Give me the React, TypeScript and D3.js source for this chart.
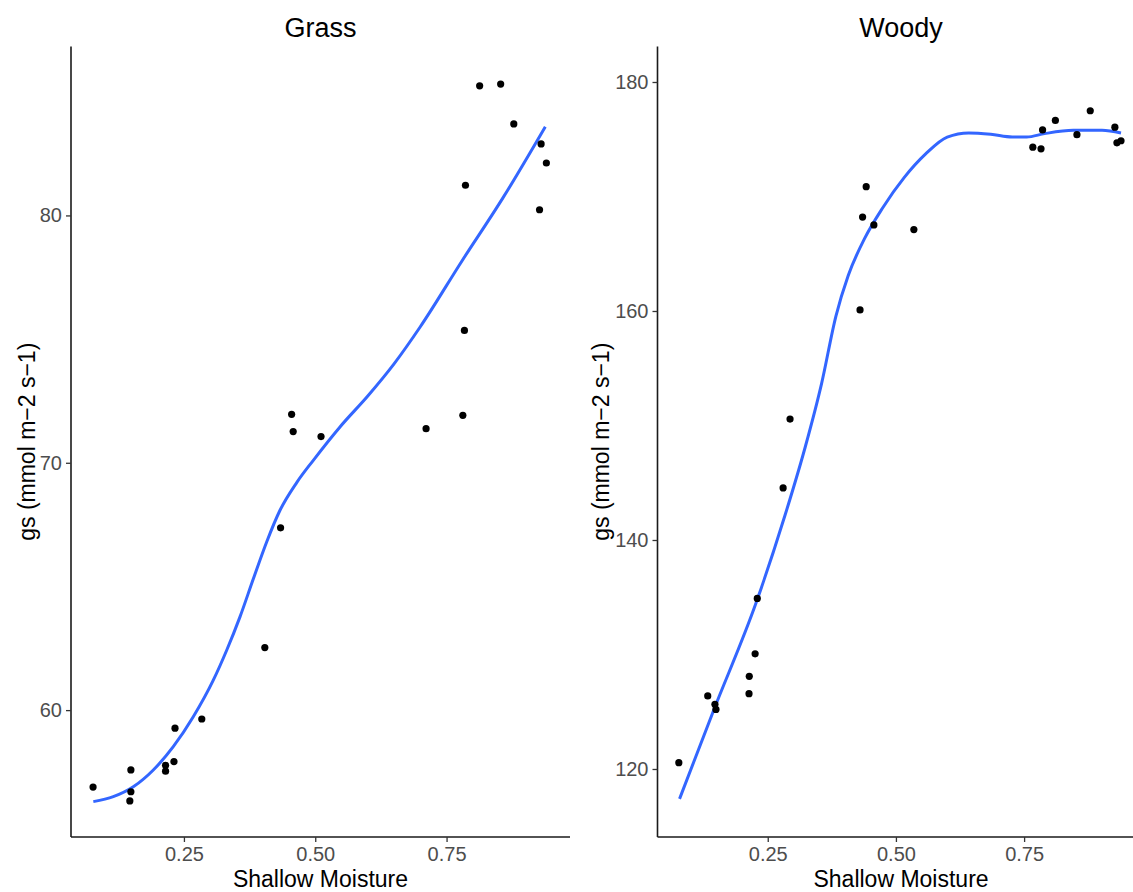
import React, { useRef, useEffect } from 'react';
import * as d3 from 'd3';

// tick labels
const xTicks = [0.25, 0.5, 0.75];
const grassTicks = [60, 70, 80];
const woodyTicks = [120, 140, 160, 180];

// Grass observations
const grassX = [0.813, 0.853, 0.878, 0.930, 0.940, 0.786, 0.927, 0.784, 0.455, 0.458, 0.511, 0.711, 0.781,
  0.434, 0.404, 0.284, 0.233, 0.231, 0.215, 0.215, 0.149, 0.149, 0.147, 0.077];
const grassY = [85.24, 85.31, 83.70, 82.89, 82.12, 81.22, 80.23, 75.35, 71.96, 71.26, 71.06, 71.38, 71.92,
  67.37, 62.53, 59.64, 59.27, 57.92, 57.77, 57.53, 57.58, 56.70, 56.33, 56.89];

// Grass loess fit
const grassFitX = [0.0775, 0.1155, 0.1536, 0.1917, 0.2297, 0.2678, 0.3059, 0.3314, 0.3567, 0.382, 0.4075,
  0.4329, 0.4647, 0.4963, 0.5471, 0.60, 0.65, 0.70, 0.779, 0.857, 0.938];
const grassFitY = [56.30, 56.50, 56.90, 57.58, 58.52, 59.73, 61.21, 62.42, 63.77, 65.30, 66.80,
  68.08, 69.20, 70.10, 71.45, 72.7, 74.0, 75.5, 78.15, 80.70, 83.59];

// Woody observations
const woodyX = [0.280, 0.2296, 0.2254, 0.214, 0.2135, 0.133, 0.147, 0.149, 0.0766,
  0.2935, 0.430, 0.435, 0.442, 0.457, 0.535, 0.767, 0.783, 0.786, 0.811, 0.853, 0.879, 0.927, 0.931, 0.939];
const woodyY = [144.55, 134.90, 130.06, 128.09, 126.58, 126.38, 125.65, 125.2, 120.55,
  150.56, 160.09, 168.2, 170.86, 167.52, 167.11, 174.31, 174.16, 175.81, 176.64, 175.40, 177.49, 176.05, 174.69, 174.87];

// Woody loess fit
const woodyFitX = [0.078, 0.144, 0.228, 0.284, 0.323, 0.355, 0.383, 0.407, 0.439, 0.474, 0.516, 0.558, 0.600,
  0.642, 0.685, 0.727, 0.755, 0.790, 0.846, 0.902, 0.939];
const woodyFitY = [117.39, 125.07, 134.6, 142.2, 148.1, 153.66, 159.56, 163.1, 166.34, 169.0, 171.65, 173.72, 175.19,
  175.55, 175.43, 175.19, 175.19, 175.49, 175.78, 175.78, 175.55];

const FONT = '"Liberation Sans", Arial, sans-serif';

const panels = [
  {
    title: 'Grass', x: grassX, y: grassY, fitX: grassFitX, fitY: grassFitY, yTicks: grassTicks,
    left: 71, right: 570, yDomain: [54.87, 86.83], yLabelX: 27,
  },
  {
    title: 'Woody', x: woodyX, y: woodyY, fitX: woodyFitX, fitY: woodyFitY, yTicks: woodyTicks,
    left: 657.5, right: 1144.6, yDomain: [114.06, 183.1], yLabelX: 601,
  },
];

export default function App() {
  const svgRef = useRef<SVGSVGElement>(null);

  useEffect(() => {
    const svg = d3.select(svgRef.current);
    svg.selectAll('*').remove();
    const top = 46.5;
    const bottom = 837;

    panels.forEach(p => {
      const xScale = d3.scaleLinear().domain([0.035, 0.985]).range([p.left, p.right]);
      const yScale = d3.scaleLinear().domain(p.yDomain).range([bottom, top]);
      const g = svg.append('g');

      // x axis
      const xAxis = g.append('g')
        .attr('transform', `translate(0,${bottom})`)
        .call(d3.axisBottom(xScale).tickValues(xTicks).tickSize(5).tickPadding(5).tickFormat(d3.format('.2f')));
      xAxis.select('.domain').attr('d', `M${p.left},0H${p.right}`).attr('stroke', '#1a1a1a').attr('stroke-width', 1.6);
      xAxis.selectAll('.tick line').attr('stroke', '#333').attr('stroke-width', 1.3);
      xAxis.selectAll('.tick text').attr('fill', '#4d4d4d').style('font-size', '20px').style('font-family', FONT);

      // y axis
      const yAxis = g.append('g')
        .attr('transform', `translate(${p.left},0)`)
        .call(d3.axisLeft(yScale).tickValues(p.yTicks).tickSize(5).tickPadding(4));
      yAxis.select('.domain').attr('d', `M0,${top}V${bottom}`).attr('stroke', '#1a1a1a').attr('stroke-width', 1.6);
      yAxis.selectAll('.tick line').attr('stroke', '#333').attr('stroke-width', 1.3);
      yAxis.selectAll('.tick text').attr('fill', '#4d4d4d').style('font-size', '20px').style('font-family', FONT);

      // loess fit
      const fit = p.fitX.map((v, i) => [v, p.fitY[i]] as [number, number]);
      g.append('path')
        .datum(fit)
        .attr('fill', 'none')
        .attr('stroke', '#3366FF')
        .attr('stroke-width', 3)
        .attr('d', d3.line<[number, number]>()
          .x(d => xScale(d[0]))
          .y(d => yScale(d[1]))
          .curve(d3.curveMonotoneX));

      // points
      g.selectAll('circle.pt')
        .data(p.x.map((v, i) => [v, p.y[i]]))
        .join('circle')
        .attr('class', 'pt')
        .attr('cx', d => xScale(d[0]))
        .attr('cy', d => yScale(d[1]))
        .attr('r', 3.6)
        .attr('fill', '#000');

      // titles
      g.append('text')
        .attr('x', (p.left + p.right) / 2)
        .attr('y', 37)
        .attr('text-anchor', 'middle')
        .style('font-family', FONT)
        .style('font-size', '27px')
        .attr('fill', '#000')
        .text(p.title);

      g.append('text')
        .attr('x', (p.left + p.right) / 2)
        .attr('y', 887)
        .attr('text-anchor', 'middle')
        .style('font-family', FONT)
        .style('font-size', '23px')
        .attr('fill', '#000')
        .text('Shallow Moisture');

      g.append('text')
        .attr('transform', `translate(${p.yLabelX},${(top + bottom) / 2}) rotate(-90)`)
        .attr('text-anchor', 'middle')
        .attr('dominant-baseline', 'central')
        .style('font-family', FONT)
        .style('font-size', '23px')
        .attr('fill', '#000')
        .text('gs (mmol m\u22122 s\u22121)');
    });
  }, []);

  return (
    <svg ref={svgRef} width={1133} height={892}
      style={{ position: 'absolute', left: 0, top: 0, background: '#fff' }} />
  );
}
